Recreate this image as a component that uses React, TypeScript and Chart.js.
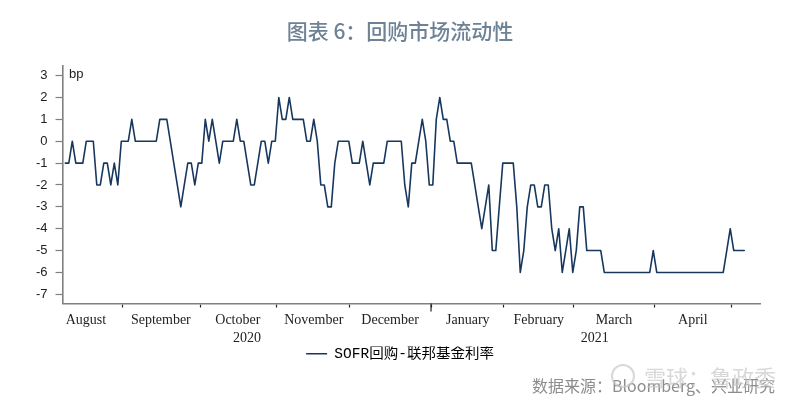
import React, { useEffect, useRef } from "react";
import { Chart, registerables } from "chart.js";

Chart.register(...registerables);

const sofrSpread = [
  -1, -1, 0, -1, -1, -1, 0, 0, 0, -2, -2, -1, -1, -2, -1, -2, 0, 0, 0, 1,
  0, 0, 0, 0, 0, 0, 0, 1, 1, 1, 0, -1, -2, -3, -2, -1, -1, -2, -1, -1,
  1, 0, 1, 0, -1, 0, 0, 0, 0, 1, 0, 0, -1, -2, -2, -1, 0, 0, -1, 0,
  0, 2, 1, 1, 2, 1, 1, 1, 1, 0, 0, 1, 0, -2, -2, -3, -3, -1, 0, 0,
  0, 0, -1, -1, -1, 0, -1, -2, -1, -1, -1, -1, 0, 0, 0, 0, 0, -2, -3, -1,
  -1, 0, 1, 0, -2, -2, 1, 2, 1, 1, 0, 0, -1, -1, -1, -1, -1, -2, -3, -4,
  -3, -2, -5, -5, -3, -1, -1, -1, -1, -3, -6, -5, -3, -2, -2, -3, -3, -2, -2, -4,
  -5, -4, -6, -5, -4, -6, -5, -3, -3, -5, -5, -5, -5, -5, -6, -6, -6, -6, -6, -6,
  -6, -6, -6, -6, -6, -6, -6, -6, -5, -6, -6, -6, -6, -6, -6, -6, -6, -6, -6, -6,
  -6, -6, -6, -6, -6, -6, -6, -6, -6, -5, -4, -5, -5, -5, -5,
];

const monthBoundaries = [16.4, 38.5, 60.4, 81.3, 104.5, 125.3, 145.3, 168.4, 190.4];
const yearBoundary = 104.5;
const monthNames = ["August", "September", "October", "November", "December", "January", "February", "March", "April"];
const monthCentres = [5.9, 27.3, 49.3, 71, 92.8, 115, 135.3, 156.8, 179.3];
const yearNames = ["2020", "2021"];
const yearCentres = [51.9, 151.3];
const yTicks = [3, 2, 1, 0, -1, -2, -3, -4, -5, -6, -7];
const seriesName = "SOFR回购-联邦基金利率";
const titleText = "图表 6：回购市场流动性";
const sourceText = "数据来源：Bloomberg、兴业研究";
const watermarkText = "雪球：鲁政委";

const serif = '"Liberation Serif", serif';
const sans = '"Liberation Sans", sans-serif';
const cjk = '"Noto Sans CJK SC", sans-serif';

const X_MIN = -0.8;
const X_MAX = 198.5;

const annotations = {
  id: "annotations",
  afterDraw(chart: any) {
    const { ctx, scales } = chart;
    ctx.save();
    const xd = scales.x.getPixelForValue(yearBoundary);
    ctx.strokeStyle = "#222";
    ctx.lineWidth = 1.2;
    ctx.beginPath();
    ctx.moveTo(xd, scales.y.bottom);
    ctx.lineTo(xd, scales.y.bottom + 8);
    ctx.stroke();
    ctx.fillStyle = "#222";
    ctx.font = `13px ${sans}`;
    ctx.textAlign = "left";
    ctx.textBaseline = "middle";
    ctx.fillText("bp", 69, 74);
    ctx.fillStyle = "#8c8c8c";
    ctx.font = `16px ${cjk}`;
    ctx.textAlign = "right";
    ctx.fillText(sourceText, 775, 386);
    ctx.fillStyle = "rgba(200,200,200,0.7)";
    ctx.font = `22px ${cjk}`;
    ctx.fillText(watermarkText, 776, 378);
    ctx.strokeStyle = "rgba(200,200,200,0.7)";
    ctx.lineWidth = 2;
    ctx.beginPath();
    ctx.arc(623, 376, 11, 0, Math.PI * 2);
    ctx.stroke();
    ctx.restore();
  },
};

export default function App() {
  const ref = useRef<HTMLCanvasElement>(null);
  useEffect(() => {
    document.body.style.margin = "0";
    const chart = new Chart(ref.current!, {
      type: "line",
      data: {
        datasets: [
          {
            label: seriesName,
            data: sofrSpread.map((v, i) => ({ x: i, y: v })),
            borderColor: "#17375e",
            borderWidth: 1.6,
            borderJoinStyle: "round",
            borderCapStyle: "round",
            pointRadius: 0,
            tension: 0,
          },
        ],
      },
      options: {
        animation: false,
        responsive: false,
        layout: { padding: { left: 0, right: 0, top: 0, bottom: 34 } },
        plugins: {
          title: {
            display: true,
            text: titleText,
            color: "#6e8296",
            font: { family: cjk, size: 21, weight: "500" as any },
            padding: { top: 18, bottom: 23 },
          },
          legend: {
            position: "bottom",
            labels: {
              color: "#222",
              boxWidth: 21,
              boxHeight: 0,
              padding: 0,
              font: { family: '"Liberation Mono", "Noto Sans CJK SC", monospace', size: 14.5 },
              generateLabels: () => [
                {
                  text: seriesName,
                  strokeStyle: "#17375e",
                  lineWidth: 1.6,
                  fillStyle: "#17375e",
                  datasetIndex: 0,
                },
              ],
            },
          },
          tooltip: { enabled: false },
        },
        scales: {
          x: {
            type: "linear",
            min: X_MIN,
            max: X_MAX,
            position: "bottom",
            afterBuildTicks: (a: any) => {
              a.ticks = monthBoundaries.map((value) => ({ value }));
            },
            ticks: { display: false, autoSkip: false },
            grid: { drawOnChartArea: false, drawTicks: true, tickLength: 4, tickColor: "#222", tickWidth: 1.2 },
            border: { color: "#808080", width: 1.6 },
            afterFit: (a: any) => { a.height = 6; },
          },
          months: {
            type: "linear",
            min: X_MIN,
            max: X_MAX,
            position: "bottom",
            afterBuildTicks: (a: any) => {
              a.ticks = monthCentres.map((value) => ({ value }));
            },
            ticks: {
              autoSkip: false,
              maxRotation: 0,
              padding: 2,
              color: "#222",
              font: { family: serif, size: 14 },
              callback: (v: any) => monthNames[monthCentres.indexOf(v)] ?? "",
            },
            grid: { display: false, drawTicks: false },
            border: { display: false },
            afterFit: (a: any) => { a.height = 18; },
          },
          years: {
            type: "linear",
            min: X_MIN,
            max: X_MAX,
            position: "bottom",
            afterBuildTicks: (a: any) => {
              a.ticks = yearCentres.map((value) => ({ value }));
            },
            ticks: {
              autoSkip: false,
              maxRotation: 0,
              padding: 2,
              color: "#222",
              font: { family: serif, size: 14 },
              callback: (v: any) => yearNames[yearCentres.indexOf(v)] ?? "",
            },
            grid: { display: false, drawTicks: false },
            border: { display: false },
            afterFit: (a: any) => { a.height = 19; },
          },
          y: {
            type: "linear",
            min: -7.42,
            max: 3.43,
            afterBuildTicks: (a: any) => {
              a.ticks = yTicks.map((value) => ({ value }));
            },
            ticks: {
              autoSkip: false,
              padding: 8,
              color: "#222",
              font: { family: sans, size: 13 },
              callback: (v: any) => String(v),
            },
            grid: { drawOnChartArea: false, tickLength: 7, tickColor: "#808080", tickWidth: 1.2 },
            border: { color: "#808080", width: 1.6 },
            afterFit: (a: any) => { a.width = 62.5; },
          },
          rightGutter: {
            type: "linear",
            position: "right",
            ticks: { display: false },
            grid: { display: false },
            border: { display: false },
            afterFit: (a: any) => { a.width = 40; },
          },
        },
      } as any,
      plugins: [annotations],
    });
    return () => chart.destroy();
  }, []);
  return (
    <div style={{ position: "absolute", left: 0, top: 0, width: 800, height: 405, background: "#fff" }}>
      <canvas ref={ref} width={800} height={405} style={{ display: "block", width: 800, height: 405 }} />
    </div>
  );
}
